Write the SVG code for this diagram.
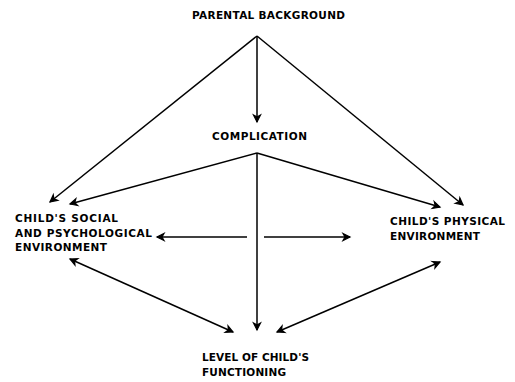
<svg xmlns="http://www.w3.org/2000/svg" width="515" height="382" viewBox="0 0 515 382">
<defs>
<marker id="ah" markerUnits="userSpaceOnUse" markerWidth="12" markerHeight="12" refX="0" refY="0" viewBox="-8 -6 10 12" orient="auto-start-reverse" overflow="visible">
<path d="M-7,-3.5 L0,0 L-7,3.5 L-5,0 Z" fill="#000" stroke="#000" stroke-width="1.2" stroke-linejoin="miter"/>
</marker>
</defs>
<style>
text{font-family:"DejaVu Sans","Liberation Sans",sans-serif;font-weight:bold;font-size:10.5px;fill:#000}
.c{fill:none;stroke:#000;stroke-width:1.5}
.a{marker-end:url(#ah)}
.b{marker-start:url(#ah);marker-end:url(#ah)}
</style>
<rect width="515" height="382" fill="#fff"/>
<g id="connectors">
<line class="c a" x1="257" y1="36" x2="257" y2="122"/>
<line class="c a" x1="257" y1="36" x2="50" y2="202"/>
<line class="c a" x1="257" y1="36" x2="463" y2="205"/>
<line class="c a" x1="257" y1="153" x2="70" y2="204"/>
<line class="c a" x1="257" y1="153" x2="440" y2="207"/>
<line class="c a" x1="257" y1="153" x2="257" y2="330"/>
<line class="c a" x1="247" y1="237" x2="157" y2="237"/>
<line class="c a" x1="264" y1="237" x2="350" y2="237"/>
<line class="c b" x1="70" y1="259" x2="233" y2="332"/>
<line class="c b" x1="440" y1="262" x2="277" y2="332"/>
</g>
<g id="parental">
<text x="192" y="19" textLength="153" lengthAdjust="spacing">PARENTAL BACKGROUND</text>
</g>
<g id="complication">
<text x="212" y="140" textLength="95" lengthAdjust="spacing">COMPLICATION</text>
</g>
<g id="social">
<text x="15" y="222" textLength="103" lengthAdjust="spacing">CHILD'S SOCIAL</text>
<text x="15" y="237" textLength="137" lengthAdjust="spacing">AND PSYCHOLOGICAL</text>
<text x="15" y="251" textLength="92" lengthAdjust="spacing">ENVIRONMENT</text>
</g>
<g id="physical">
<text x="390" y="225" textLength="115" lengthAdjust="spacing">CHILD'S PHYSICAL</text>
<text x="390" y="240" textLength="90" lengthAdjust="spacing">ENVIRONMENT</text>
</g>
<g id="functioning">
<text x="202" y="361" textLength="107" lengthAdjust="spacing">LEVEL OF CHILD'S</text>
<text x="202" y="376" textLength="84" lengthAdjust="spacing">FUNCTIONING</text>
</g>
</svg>
